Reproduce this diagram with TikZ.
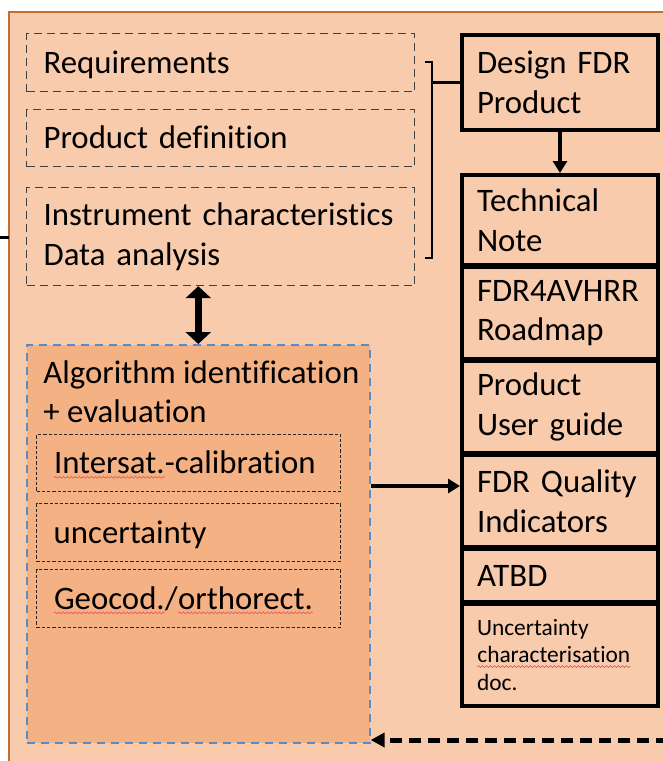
\documentclass[tikz,border=0pt]{standalone}
\usepackage{fontspec}
\setmainfont{Carlito}[Ligatures=NoCommon]
\usetikzlibrary{positioning,arrows.meta,decorations.pathmorphing}

\definecolor{framefill}{RGB}{248,203,173}
\definecolor{framedraw}{RGB}{197,110,50}
\definecolor{algofill}{RGB}{244,177,131}
\definecolor{algodraw}{RGB}{84,141,200}
\definecolor{spellred}{RGB}{235,90,90}

% red squiggle of the spell checker
\newcommand\spellchk[1]{\tikz[baseline=(sw.base)]{\node[inner sep=0pt,outer sep=0pt,draw=none,fill=none,font=,
        minimum width=0pt,minimum height=0pt,text width=,text height=,text depth=,anchor=center] (sw) {#1};
        \draw[spellred,solid,line width=0.35pt,decorate,decoration={snake,amplitude=0.45pt,segment length=2pt}]
                ([yshift=-1.8pt]sw.base west) -- ([yshift=-1.8pt]sw.base east);}}

\begin{document}
\begin{tikzpicture}[x=0.5pt,y=-0.5pt,
        every node/.append style={font=\fontsize{16.4}{19.8}\selectfont},
        oneline/.style={text height=12pt,text depth=1.44pt},
        ideabox/.style={draw=black!75,dash pattern=on 4pt off 2.5pt,line width=0.6pt,anchor=north west,
                minimum width=194pt,text width=177pt,inner xsep=8.5pt,align=left},
        calbox/.style={draw=black!85,dash pattern=on 1.6pt off 1pt,line width=0.7pt,anchor=north west,
                minimum width=152pt,text width=135pt,inner xsep=8.5pt,align=left,minimum height=29pt},
        docbox/.style={draw,line width=2pt,minimum width=98pt,text width=83pt,inner xsep=7.5pt,align=left},
        algobox/.style={draw=algodraw,fill=algofill,dash pattern=on 4pt off 3pt,line width=0.8pt,
                anchor=north west,minimum width=171.5pt,minimum height=199pt},
        bracket/.style={line width=1.3pt},
        loopback/.style={line width=2.5pt,dash pattern=on 6pt off 3.5pt,
                -{Stealth[inset=0pt,length=7pt,width=7pt]}}]
        \useasboundingbox (0,0) rectangle (663,761);
        \begin{scope}
                \clip (0,0) rectangle (663,761);
                \draw[framedraw,fill=framefill,line width=0.8pt] (9,12) rectangle (700,800);
        \end{scope}

        % left column
        \node[ideabox,oneline,minimum height=29pt] (reqs) at (26,33) {Requirements};
        \node[ideabox,oneline,minimum height=28.5pt] (proddef) at (26,109) {Product definition};
        \node[ideabox,minimum height=49pt] (instr) at (26,187) {Instrument characteristics\\Data analysis};

        \node[algobox,label={[anchor=north west,align=left,inner xsep=8.5pt,inner ysep=8pt]north west:Algorithm identification\\+ evaluation}] (algo) at (26,344) {};
        \node[calbox,oneline,minimum height=28.5pt] (intersat) at (36,434) {\spellchk{Intersat.}-calibration};
        \node[calbox,oneline] (uncert) at (36,503) {uncertainty};
        \node[calbox,oneline] (geocod) at (36,569) {\spellchk{Geocod.}/\spellchk{orthorect.}};

        % right column
        \node[docbox,anchor=north west,minimum height=47.5pt] (design) at (460,33) {Design FDR\\Product};
        \node[docbox,anchor=north west,minimum height=45pt] (tn) at (460,173) {Technical\\Note};
        \node[docbox,minimum height=46pt,below=-1pt of tn] (roadmap) {FDR4AVHRR\\Roadmap};
        \node[docbox,minimum height=46pt,below=-1pt of roadmap] (guide) {Product\\User guide};
        \node[docbox,minimum height=46pt,below=-1pt of guide] (qi) {FDR Quality\\Indicators};
        \node[docbox,oneline,minimum height=26.5pt,below=-1pt of qi] (atbd) {ATBD};
        \node[docbox,minimum height=51pt,below=-1pt of atbd,font=\fontsize{11.7}{13.6}\selectfont] (ucd) {Uncertainty\\\spellchk{characterisation}\\doc.};

        \coordinate (inlet) at (-5,237);
        \coordinate (framein) at (9,237);
        \coordinate (brtop) at (425,62);
        \coordinate (brbot) at (425,258);
        \coordinate (brmid) at (432,82.5);
        \coordinate (fdrin) at (668,740);

        \draw[line width=1.5pt] (inlet) -- (framein);
        \draw[bracket] (brtop) -- (brtop -| brmid) -- (brbot -| brmid) -- (brbot);
        \draw[bracket] (brmid) -- (design.west);
        \path[-{Stealth[inset=0pt,length=6pt,width=7pt]},line width=2pt]
                (design) edge (tn)
                ([yshift=7.5pt]qi.west -| algo.east) edge ([yshift=7.5pt]qi.west);
        \draw[{Stealth[inset=0pt,length=6pt,width=12.5pt]}-{Stealth[inset=0pt,length=6pt,width=12.5pt]},line width=3.5pt]
                (instr.south -| algo.north) -- (algo.north);
        \draw[loopback] (fdrin) -- (algo.east |- fdrin);
\end{tikzpicture}
\end{document}
